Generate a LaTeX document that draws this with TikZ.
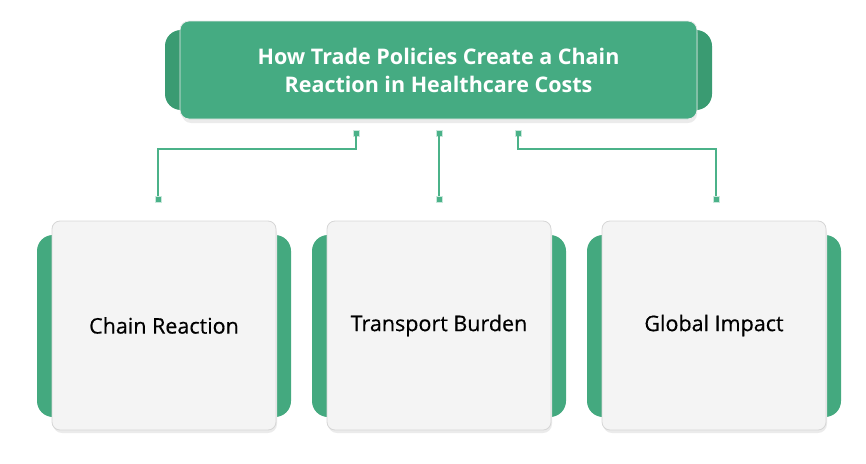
\documentclass[tikz,border=0pt]{standalone}
\usepackage{fontspec}
\setmainfont{Open Sans}
\newfontfamily\cardfont[FakeBold=0.5]{Open Sans}
\usetikzlibrary{calc}
\definecolor{titlegreen}{HTML}{45AB82}
\definecolor{tabgreen}{HTML}{3A9B72}
\definecolor{cardgreen}{HTML}{44A97F}
\definecolor{linegreen}{HTML}{4BB289}
\definecolor{cardbg}{HTML}{F4F4F4}
\definecolor{cardedge}{HTML}{D6D6D6}
\tikzset{
  titlebox/.style={fill=titlegreen, draw=white!85!gray, line width=0.8pt, rounded corners=9pt,
    minimum width=517pt, minimum height=98pt, text=white, align=center,
    font=\fontsize{21.5}{28}\selectfont\bfseries},
  tabback/.style={fill=tabgreen, rounded corners=16pt},
  cardback/.style={fill=cardgreen, rounded corners=16pt},
  card/.style={fill=cardbg, draw=cardedge, line width=0.8pt, rounded corners=8pt,
    minimum width=224pt, minimum height=209pt, align=center,
    font=\cardfont\fontsize{21.5}{24}\selectfont, text=black},
  sq/.style={fill=linegreen, draw=white!70!linegreen, line width=0.4pt, minimum size=6.5pt, inner sep=0pt},
  conn/.style={draw=linegreen, line width=1.3pt},
  shade/.style={fill=black!8, rounded corners=9pt}
}
\begin{document}
\begin{tikzpicture}[x=1pt,y=-1pt]
\useasboundingbox (0,0) rectangle (866,463);
% title
\fill[tabback] (165,30) rectangle (712,110);
\fill[shade] (182,24) rectangle (697,123);
\node[titlebox] (title) at (438.5,70) {How Trade Policies Create a Chain\\Reaction in Healthcare Costs};
% cards
\foreach \cx/\nm/\txt in {164/c1/Chain Reaction, 439/c2/Transport Burden, 714/c3/Global Impact}{
  \fill[cardback] (\cx-127,235) rectangle (\cx+127,417);
  \fill[shade] (\cx-111,224) rectangle (\cx+113,433);
  \node[card] (\nm) at (\cx,325.5) {\txt};
}
% squares
\node[sq] (t1) at (356,133) {};
\node[sq] (t2) at (439,133) {};
\node[sq] (t3) at (518,133) {};
\node[sq] (b1) at (158,199) {};
\node[sq] (b2) at (439,199) {};
\node[sq] (b3) at (716,199) {};
\coordinate (h1) at (356,149);
\coordinate (h3) at (518,149);
\draw[conn] (t1.south) -- (h1) -| (b1.north);
\draw[conn] (t2.south) -- (b2.north);
\draw[conn] (t3.south) -- (h3) -| (b3.north);
\end{tikzpicture}
\end{document}
